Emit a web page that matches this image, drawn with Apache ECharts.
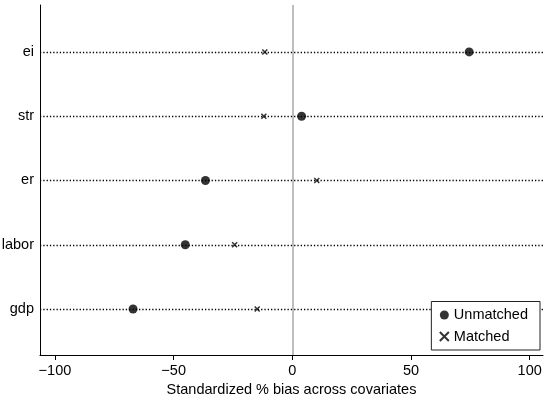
<!DOCTYPE html>
<html><head><meta charset="utf-8">
<script src="https://cdn.jsdelivr.net/npm/echarts@6/dist/echarts.min.js"></script>
<style>html,body{margin:0;padding:0;background:#fff}#c{width:550px;height:396px}</style>
</head><body><div id="c"></div>
<script>
const categories = ['gdp', 'labor', 'er', 'str', 'ei'];
const unmatched = [-67.1, -45.1, -36.6, 3.9, 74.5];
const matched = [-14.8, -24.3, 10.3, -12.0, -11.6];
const xTicks = [-100, -50, 0, 50, 100];

const FONT = '"Liberation Sans", Arial, sans-serif';
const FS = 14.5;
const pos = categories.map((c, i) => i + 1);
const chart = echarts.init(document.getElementById('c'), null, {renderer: 'canvas'});
const xPath = 'path://M0,0L10,10M10,0L0,10';

chart.setOption({
  animation: false,
  grid: {left: 40, right: 7, top: 5, bottom: 41, containLabel: false, outerBoundsMode: 'none'},
  xAxis: {
    type: 'value', min: -106.3, max: 105.6,
    axisLine: {show: true, onZero: false, lineStyle: {color: '#000', width: 1}},
    axisTick: {show: true, customValues: xTicks, length: 5, lineStyle: {color: '#000'}},
    axisLabel: {customValues: xTicks, color: '#000', fontSize: FS, fontFamily: FONT, margin: 8,
      formatter: v => String(v).replace('-', '\u2212')},
    splitLine: {show: false},
    name: 'Standardized % bias across covariates', nameLocation: 'middle', nameGap: 26,
    nameTextStyle: {color: '#000', fontSize: FS, fontFamily: FONT}
  },
  yAxis: {
    type: 'value', min: 0.285, max: 5.73,
    axisLine: {show: true, onZero: false, lineStyle: {color: '#000', width: 1}},
    axisTick: {show: false},
    axisLabel: {customValues: pos, color: '#000', fontSize: FS, fontFamily: FONT, margin: 6,
      formatter: v => categories[Math.round(v) - 1]},
    splitLine: {show: false}
  },
  legend: {
    orient: 'vertical', right: 10, bottom: 46, z: 20,
    backgroundColor: '#fff', borderColor: '#222', borderWidth: 1,
    padding: [6, 12, 6, 6], itemGap: 6.5, itemWidth: 9, itemHeight: 9,
    textStyle: {color: '#000', fontSize: FS, fontFamily: FONT},
    data: [{name: 'Unmatched', icon: 'circle'}, {name: 'Matched', icon: xPath}]
  },
  series: [
    {
      type: 'line', data: [], z: 1, silent: true,
      markLine: {
        silent: true, symbol: 'none', animation: false,
        label: {show: false},
        data: pos.map(p => ({yAxis: p, lineStyle: {color: '#000', type: [1.3, 2.0], width: 1.3}}))
          .concat([{xAxis: 0, lineStyle: {color: '#a8a8a8', type: 'solid', width: 1.5}}])
      }
    },
    {
      name: 'Unmatched', type: 'scatter', z: 3, symbol: 'circle', symbolSize: 9,
      itemStyle: {color: '#000'},
      data: unmatched.map((v, i) => [v, pos[i]])
    },
    {
      name: 'Matched', type: 'scatter', z: 3, symbol: xPath, symbolSize: 5,
      itemStyle: {color: 'none', borderColor: '#000', borderWidth: 1.5},
      data: matched.map((v, i) => [v, pos[i]])
    }
  ]
});
</script></body></html>
